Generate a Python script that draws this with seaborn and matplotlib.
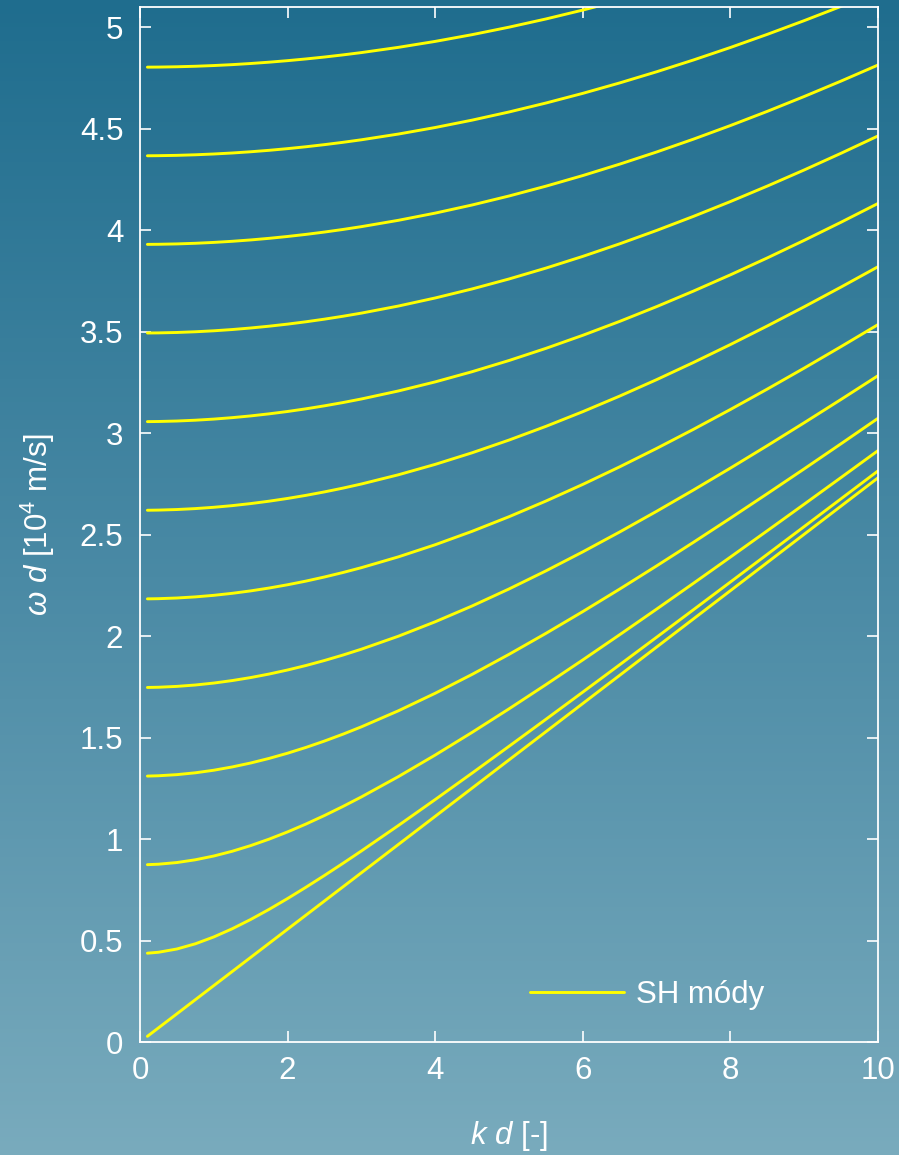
import numpy as np
import pandas as pd
import matplotlib
matplotlib.use("Agg")
import matplotlib.pyplot as plt
from matplotlib.colors import LinearSegmentedColormap
from matplotlib.lines import Line2D
import seaborn as sns

# wavenumber-thickness sample positions kd [-]
kd = [0.1, 0.25, 0.5, 0.75, 1, 1.25, 1.5, 1.75, 2, 2.25, 2.5, 2.75, 3,
      3.5, 4, 4.5, 5, 5.5, 6, 6.5, 7, 7.5, 8, 8.5, 9, 9.5, 10]

# omega*d [10^4 m/s] for each SH mode
sh0 = [0.028, 0.0695, 0.139, 0.2085, 0.278, 0.3475, 0.417, 0.4865, 0.556, 0.6255, 0.695, 0.7645, 0.834,
       0.973, 1.112, 1.251, 1.390, 1.529, 1.668, 1.807, 1.946, 2.085, 2.224, 2.363, 2.502, 2.641, 2.780]
sh1 = [0.4376, 0.4422, 0.4583, 0.4839, 0.5177, 0.5581, 0.6038, 0.6537, 0.7070, 0.7629, 0.8208, 0.8804, 0.9414,
       1.0665, 1.1947, 1.3250, 1.4570, 1.5901, 1.7242, 1.8590, 1.9944, 2.1302, 2.2665, 2.4030, 2.5398, 2.6769, 2.8141]
sh2 = [0.8738, 0.8761, 0.8843, 0.8979, 0.9165, 0.9399, 0.9678, 0.9997, 1.0353, 1.0742, 1.1161, 1.1607, 1.2076,
       1.3075, 1.4140, 1.5257, 1.6416, 1.7609, 1.8828, 2.0070, 2.1330, 2.2605, 2.3894, 2.5192, 2.6501, 2.7817, 2.9140]
sh3 = [1.3103, 1.3119, 1.3174, 1.3265, 1.3392, 1.3554, 1.3748, 1.3975, 1.4231, 1.4517, 1.4830, 1.5168, 1.5530,
       1.6319, 1.7184, 1.8114, 1.9101, 2.0135, 2.1209, 2.2319, 2.3459, 2.4624, 2.5812, 2.7019, 2.8242, 2.9481, 3.0732]
sh4 = [1.7470, 1.7481, 1.7523, 1.7591, 1.7687, 1.7810, 1.7958, 1.8132, 1.8331, 1.8553, 1.8799, 1.9067, 1.9356,
       1.9994, 2.0707, 2.1485, 2.2323, 2.3214, 2.4152, 2.5132, 2.6150, 2.7200, 2.8279, 2.9385, 3.0514, 3.1664, 3.2832]
sh5 = [2.1836, 2.1845, 2.1878, 2.1933, 2.2010, 2.2109, 2.2229, 2.2370, 2.2531, 2.2712, 2.2914, 2.3134, 2.3373,
       2.3904, 2.4503, 2.5164, 2.5883, 2.6655, 2.7476, 2.8342, 2.9248, 3.0190, 3.1167, 3.2173, 3.3207, 3.4267, 3.5349]
sh6 = [2.6202, 2.6210, 2.6238, 2.6284, 2.6348, 2.6430, 2.6531, 2.6649, 2.6784, 2.6937, 2.7107, 2.7293, 2.7496,
       2.7949, 2.8463, 2.9034, 2.9660, 3.0336, 3.1060, 3.1828, 3.2637, 3.3485, 3.4367, 3.5283, 3.6228, 3.7202, 3.8201]
sh7 = [3.0569, 3.0576, 3.0599, 3.0639, 3.0694, 3.0765, 3.0851, 3.0953, 3.1069, 3.1201, 3.1348, 3.1509, 3.1685,
       3.2079, 3.2527, 3.3029, 3.3580, 3.4179, 3.4823, 3.5509, 3.6236, 3.7002, 3.7802, 3.8636, 3.9502, 4.0396, 4.1319]
sh8 = [3.4936, 3.4942, 3.4962, 3.4997, 3.5045, 3.5107, 3.5183, 3.5272, 3.5374, 3.5490, 3.5619, 3.5761, 3.5916,
       3.6264, 3.6662, 3.7107, 3.7598, 3.8134, 3.8712, 3.9331, 3.9989, 4.0684, 4.1413, 4.2176, 4.2970, 4.3794, 4.4646]
sh9 = [3.9303, 3.9308, 3.9326, 3.9357, 3.9400, 3.9455, 3.9522, 3.9601, 3.9693, 3.9796, 3.9911, 4.0038, 4.0177,
       4.0488, 4.0844, 4.1244, 4.1687, 4.2171, 4.2694, 4.3257, 4.3855, 4.4489, 4.5158, 4.5858, 4.6590, 4.7351, 4.8140]
sh10 = [4.3669, 4.3674, 4.3690, 4.3718, 4.3757, 4.3806, 4.3867, 4.3938, 4.4021, 4.4114, 4.4218, 4.4332, 4.4457,
        4.4739, 4.5062, 4.5425, 4.5827, 4.6268, 4.6745, 4.7259, 4.7808, 4.8390, 4.9005, 4.9652, 5.0328, 5.1033, 5.1766]
sh11 = [4.8036, 4.8040, 4.8055, 4.8080, 4.8115, 4.8160, 4.8216, 4.8281, 4.8356, 4.8441, 4.8535, 4.8640, 4.8754,
        4.9011, 4.9305, 4.9637, 5.0006, 5.0410, 5.0849, 5.1321, 5.1827, 5.2365, 5.2932, 5.3533, 5.4160, 5.4817, 5.5501]

modes = [sh0, sh1, sh2, sh3, sh4, sh5, sh6, sh7, sh8, sh9, sh10, sh11]
xticks = [0, 2, 4, 6, 8, 10]
yticks = [0, 0.5, 1, 1.5, 2, 2.5, 3, 3.5, 4, 4.5, 5]
ytick_labels = ["0", "0.5", "1", "1.5", "2", "2.5", "3", "3.5", "4", "4.5", "5"]
legend_label = "SH módy"

rows = []
for i, vals in enumerate(modes):
    for x, y in zip(kd, vals):
        rows.append({"kd": x, "wd": y, "mode": f"SH{i}"})
df = pd.DataFrame(rows)

sns.set_theme(style="white")
plt.rcParams["font.family"] = ["Liberation Sans", "DejaVu Sans"]
plt.rcParams["mathtext.fontset"] = "custom"
plt.rcParams["mathtext.rm"] = "Liberation Sans"
plt.rcParams["mathtext.it"] = "Liberation Sans:italic"

FS = 22.5
W, H = 899, 1155
fig = plt.figure(figsize=(W / 100, H / 100), dpi=100)

# background gradient
bg = fig.add_axes([0, 0, 1, 1], zorder=-10)
cmap = LinearSegmentedColormap.from_list("bg", ["#1f6d8e", "#4a8aa5", "#79abbd"])
grad = np.linspace(0, 1, 256).reshape(-1, 1)
bg.imshow(grad, aspect="auto", cmap=cmap, extent=[0, 1, 0, 1], origin="upper")
bg.set_axis_off()

ax = fig.add_axes([140 / W, 113 / H, (878 - 140) / W, (1042 - 7) / H])
ax.set_facecolor("none")

palette = {f"SH{i}": "#ffff00" for i in range(len(modes))}
sns.lineplot(data=df, x="kd", y="wd", hue="mode", palette=palette, linewidth=2.1,
             legend=False, ax=ax, estimator=None, sort=False)

ax.set_xlim(0, 10)
ax.set_ylim(0, 5.10)
ax.set_xticks(xticks)
ax.set_yticks(yticks)
ax.set_yticklabels(ytick_labels)

for s in ax.spines.values():
    s.set_color("white")
    s.set_linewidth(1.3)
    s.set_visible(True)

ax.tick_params(axis="both", which="major", direction="in", length=8, width=1.2,
               color="white", labelcolor="white", labelsize=FS,
               top=True, right=True, bottom=True, left=True)
ax.tick_params(axis="x", pad=10)
ax.tick_params(axis="y", pad=12)

ax.set_xlabel(r"$k\ d$ [-]", color="white", fontsize=FS, labelpad=24)
ax.set_ylabel(r"$\omega\ d$ [10$^4$ m/s]", color="white", fontsize=FS, labelpad=16)

handle = Line2D([], [], color="#ffff00", linewidth=2.1)
leg = ax.legend([handle], [legend_label], loc="center left",
                bbox_to_anchor=((530 - 140) / 738, (1042 - 995) / 1035),
                frameon=False, fontsize=FS, handlelength=3.0,
                handletextpad=0.4, borderpad=0, borderaxespad=0)
for t in leg.get_texts():
    t.set_color("white")

fig.savefig("out.png", dpi=100)
